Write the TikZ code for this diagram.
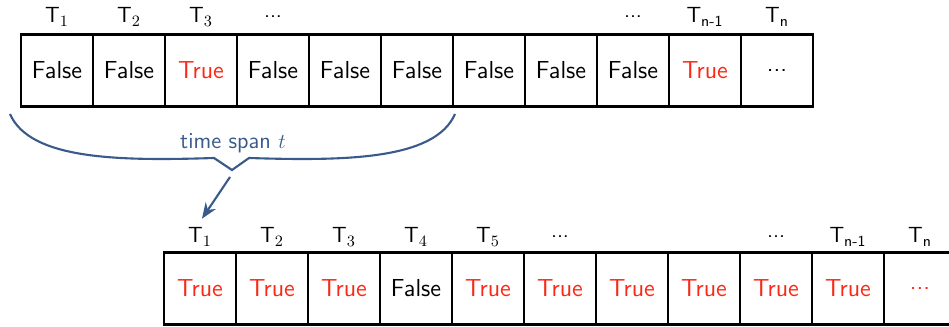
\documentclass[tikz,border=0pt]{standalone}
\usepackage{amsmath}
\usepackage{tikz}
\usetikzlibrary{arrows.meta}

\definecolor{spanblue}{RGB}{58,90,140}
\definecolor{truered}{RGB}{250,40,20}
\newcommand{\tdots}{.\kern0em.\kern0em.}

\begin{document}
\begin{tikzpicture}[x=0.02cm, y=-0.02cm, >={Stealth[length=9pt,width=7pt]}, font=\sffamily,
    cell/.style={draw, line width=1.2pt, minimum width=1.44cm, minimum height=1.44cm,
                 inner sep=0pt, font=\sffamily\fontsize{14}{16}\selectfont},
    tlabel/.style={font=\sffamily\fontsize{12.5}{15}\selectfont}]
    \useasboundingbox (0,0) rectangle (949,327);

    % upper row
    \foreach \v/\c [count=\i] in {False/black, False/black, True/truered, False/black,
                                  False/black, False/black, False/black, False/black,
                                  False/black, True/truered, \tdots/black} {
        \node[cell, text=\c] (top\i) at ({72*\i-15}, 70.5) {\v};
    }
    \foreach \i/\l in {1/T$_1$, 2/T$_2$, 3/T$_3$, 4/\tdots, 9/\tdots,
                       10/T$_{\text{n-1}}$, 11/T$_{\text{n}}$} {
        \node[tlabel] (ta\i) at ({72*\i-15}, 17) {\l};
    }

    % lower row
    \foreach \v/\c [count=\i] in {True/truered, True/truered, True/truered, False/black,
                                  True/truered, True/truered, True/truered, True/truered,
                                  True/truered, True/truered, \tdots/truered} {
        \node[cell, text=\c] (bot\i) at ({72*\i+128}, 288.5) {\v};
    }
    \foreach \i/\l in {1/T$_1$, 2/T$_2$, 3/T$_3$, 4/T$_4$, 5/T$_5$, 6/\tdots, 9/\tdots,
                       10/T$_{\text{n-1}}$, 11/T$_{\text{n}}$} {
        \node[tlabel] (tb\i) at ({72*\i+128}, 237) {\l};
    }

    % brace over the time span
    \draw[spanblue, line width=1.2pt] (10,114) .. controls (30,160) and (120,161) .. (214,158)
        -- (232,170) -- (249,158) .. controls (345,161) and (435,160) .. (455,114);
    \node[spanblue, font=\sffamily\fontsize{13}{15}\selectfont] (span) at (233,143) {time span $t$};

    \coordinate (from) at (230,177);
    \draw[->, spanblue, line width=1.2pt, shorten >=2pt] (from) -- (tb1.north);
\end{tikzpicture}
\end{document}
